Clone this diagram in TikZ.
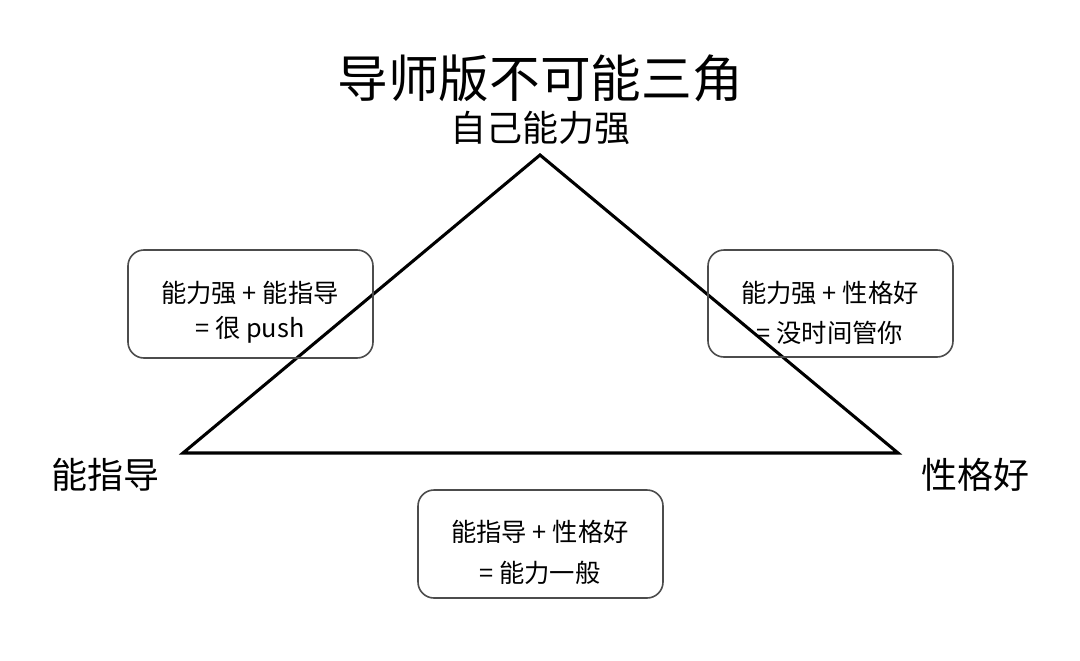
\documentclass[tikz,border=0pt]{standalone}
\usepackage{fontspec}
\setmainfont{Noto Sans CJK SC}
\begin{document}
\begin{tikzpicture}[x=0.75pt,y=-0.75pt,
  box/.style={draw=black!70,line width=1.2pt,rounded corners=12pt},
  bt/.style={font=\fontsize{19}{22}\selectfont,align=center,inner sep=0pt},
  lab/.style={font=\fontsize{27}{30}\selectfont,inner sep=0pt}]
\useasboundingbox[fill=white] (0,0) rectangle (1080,660);
\node[font=\fontsize{38}{40}\selectfont,inner sep=0pt] (title) at (540,78) {导师版不可能三角};
\node[lab] (top) at (540,128) {自己能力强};
\node[lab] (left) at (105,475) {能指导};
\node[lab] (right) at (975,475) {性格好};
\coordinate (A) at (540,155);
\coordinate (B) at (183,453);
\coordinate (C) at (898,453);
\draw[line width=2.3pt,line join=miter] (A) -- (B) -- (C) -- cycle;
\draw[box] (128,250) rectangle (373,358);
\draw[box] (708,250) rectangle (953,357);
\draw[box] (418,490) rectangle (663,598);
\node[bt] (l1) at (250,293) {能力强 + 能指导};
\node[bt] (l2) at (250,330) {= 很 push};
\node[bt] (r1) at (830,293) {能力强 + 性格好};
\node[bt] (r2) at (830,333) {= 没时间管你};
\node[bt] (b1) at (540,532) {能指导 + 性格好};
\node[bt] (b2) at (540,573) {= 能力一般};
\end{tikzpicture}
\end{document}
